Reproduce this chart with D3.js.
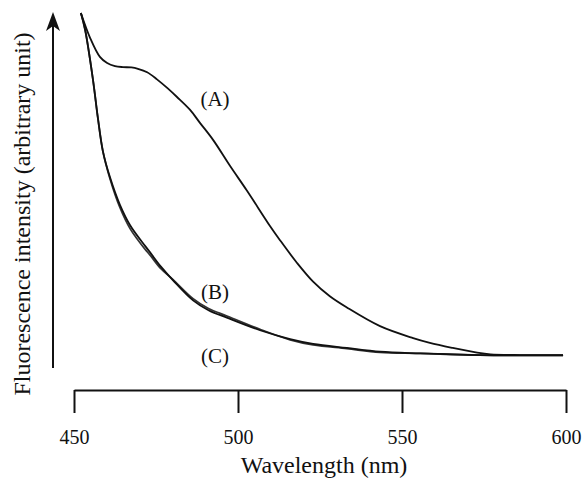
<!DOCTYPE html>
<html>
<head>
<meta charset="utf-8">
<script src="https://cdn.jsdelivr.net/npm/d3@7"></script>
<style>
  body { margin: 0; background: #fff; }
  svg text { font-family: "Liberation Serif", "Times New Roman", serif; fill: #111; }
</style>
</head>
<body>
<div id="chart"></div>
<script>
// spectrum A
var wavelengthA = [452.1, 454.9, 457.9, 460.1, 462.5, 464.9, 467.5, 469.5, 472.3, 475.3, 478.5, 481.4,
  485.4, 488.4, 492.4, 497.6, 502.7, 509.8, 512.8, 518.0, 522.9, 528.0, 533.2, 543.3, 553.4,
  558.5, 565.5, 572.9, 577.0, 586.0, 599.1];
var intensityA = [104.4, 97.1, 91.5, 89.7, 88.8, 88.5, 88.4, 88.0, 87.0, 84.9, 82.3, 79.7,
  75.9, 72.1, 67.1, 59.4, 52.2, 41.7, 37.6, 30.9, 25.4, 21.1, 17.8, 12.3, 8.8,
  7.4, 5.9, 4.5, 4.0, 3.8, 3.8];

// spectra B and C share wavelengths
var wavelengthBC = [452.1, 453.4, 455.8, 457.3, 458.8, 461.0, 464.0, 467.1, 471.6, 473.2, 476.5, 480.2,
  486.3, 491.0, 496.6, 506.7, 515.9, 522.9, 533.2, 543.3, 555.5, 573.8, 599.1];
var intensityB = [104.4, 99.4, 84.7, 73.4, 63.8, 56.0, 48.0, 42.0, 36.0, 34.0, 29.8, 25.8,
  19.9, 17.0, 14.8, 11.1, 8.5, 7.1, 5.9, 4.8, 4.3, 3.8, 3.7];
var intensityC = [104.4, 99.4, 84.7, 73.4, 63.8, 55.6, 47.2, 41.0, 35.0, 33.2, 29.2, 26.0,
  20.4, 17.5, 15.3, 11.4, 8.3, 6.8, 5.7, 4.6, 4.3, 3.8, 3.7];

var xTicks = [450, 500, 550, 600];
var labelNames = ["(A)", "(B)", "(C)"];
var labelWl = [493, 493, 493];
var labelV = [79.1, 22.4, 3.5];

var width = 585, height = 481;

var svg = d3.select("#chart").append("svg")
    .attr("width", width)
    .attr("height", height);

var x = d3.scaleLinear().domain([450, 600]).range([74, 566]);
var y = d3.scaleLinear().domain([0, 105]).range([368, 11]);

// x axis
var xAxis = svg.append("g")
    .attr("transform", "translate(0,390)")
    .call(d3.axisBottom(x).tickValues(xTicks).tickSize(23).tickSizeOuter(0).tickPadding(17));
xAxis.select(".domain").attr("stroke", "#111").attr("stroke-width", 2);
xAxis.selectAll(".tick line").attr("stroke", "#111").attr("stroke-width", 2);
xAxis.selectAll(".tick text")
    .attr("font-family", "Liberation Serif, serif")
    .attr("font-size", 20)
    .attr("fill", "#111");

// y axis: plain arrow, no ticks
svg.append("line")
    .attr("x1", 53).attr("x2", 53)
    .attr("y1", y(0)).attr("y2", 22)
    .attr("stroke", "#111").attr("stroke-width", 2);
svg.append("path")
    .attr("d", "M53,12 L60,31 L53,26 L46,31 Z")
    .attr("fill", "#111");

// axis titles
svg.append("text")
    .attr("x", 324).attr("y", 473)
    .attr("text-anchor", "middle")
    .attr("font-size", 24)
    .text("Wavelength (nm)");

svg.append("text")
    .attr("transform", "translate(30,214) rotate(-90)")
    .attr("text-anchor", "middle")
    .attr("font-size", 24)
    .text("Fluorescence intensity (arbitrary unit)");

// curves
var line = d3.line()
    .x(function(d) { return x(d[0]); })
    .y(function(d) { return y(d[1]); })
    .curve(d3.curveCatmullRom.alpha(0.5));

var series = [
  { wl: wavelengthBC, v: intensityC, color: "#333" },
  { wl: wavelengthBC, v: intensityB, color: "#111" },
  { wl: wavelengthA, v: intensityA, color: "#111" }
];

series.forEach(function(s) {
  svg.append("path")
      .datum(d3.zip(s.wl, s.v))
      .attr("fill", "none")
      .attr("stroke", s.color)
      .attr("stroke-width", 1.8)
      .attr("stroke-linejoin", "round")
      .attr("d", line);
});

// curve labels
svg.selectAll(".curve-label")
    .data(labelNames)
  .enter().append("text")
    .attr("class", "curve-label")
    .attr("x", function(d, i) { return x(labelWl[i]); })
    .attr("y", function(d, i) { return y(labelV[i]); })
    .attr("dy", "0.35em")
    .attr("text-anchor", "middle")
    .attr("font-size", 21)
    .text(function(d) { return d; });
</script>
</body>
</html>
